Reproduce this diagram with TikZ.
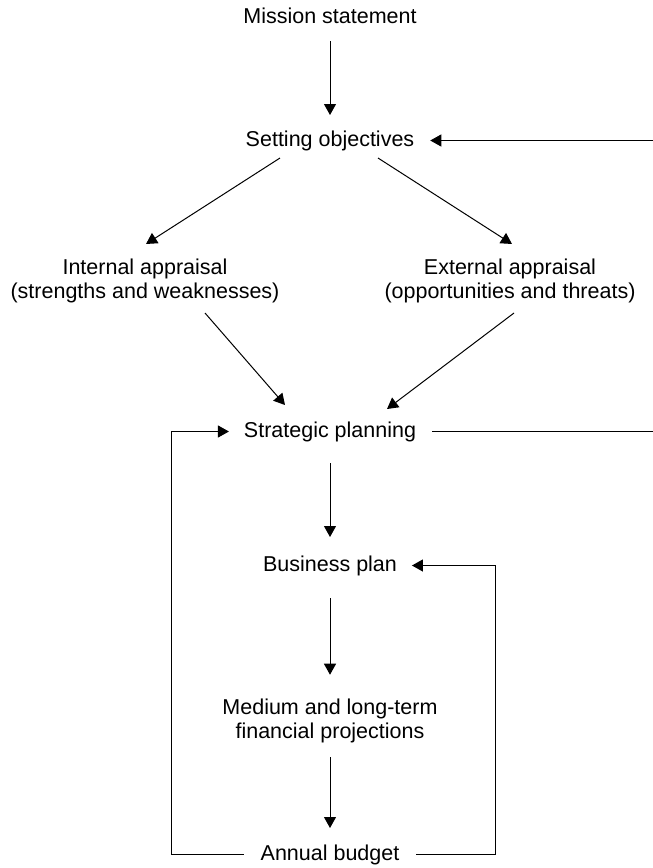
\documentclass[tikz,border=0pt]{standalone}
\usepackage{fontspec}
\setmainfont{Liberation Sans}
\usetikzlibrary{arrows.meta,calc}
\begin{document}
\begin{tikzpicture}[x=1pt,y=-1pt,
  lbl/.style={inner sep=0pt,outer sep=0pt,anchor=base,text height=16pt,text depth=5pt,font=\fontsize{21.5}{24.5}\selectfont},
  lbltwo/.style={inner sep=0pt,outer sep=0pt,align=center,font=\fontsize{21.5}{24.5}\selectfont},
  arr/.style={line width=1pt,-{Triangle[length=11pt,width=12pt]}},
  ln/.style={line width=1pt}]
\useasboundingbox (0,0) rectangle (653,868);
\node[lbl] (mission) at (330,23) {Mission statement};
\node[lbl] (setting) at (330,146) {Setting objectives};
\node[lbltwo] (internal) at (145,281) {Internal appraisal\\(strengths and weaknesses)};
\node[lbltwo] (external) at (510,281) {External appraisal\\(opportunities and threats)};
\node[lbl] (strat) at (330,437) {Strategic planning};
\node[lbl] (business) at (330,571) {Business plan};
\node[lbltwo] (medium) at (330,721) {Medium and long-term\\financial projections};
\node[lbl] (annual) at (330,860) {Annual budget};
\coordinate (rtop) at (653,140.5);
\coordinate (rmid) at (653,431.5);
% vertical flow
\draw[arr] ($(mission.south)+(0,13)$) -- ($(setting.north)+(0,-15)$);
\draw[arr] ($(strat.south)+(0,21)$) -- ($(business.north)+(0,-18)$);
\draw[arr] ($(business.south)+(0,22)$) -- ($(medium.north)+(0,-24)$);
\draw[arr] ($(medium.south)+(0,14)$) -- ($(annual.north)+(0,-16)$);
% diagonals
\draw[arr] ($(setting.base)+(-50,12)$) -- ($(internal.center)+(1,-37)$);
\draw[arr] ($(setting.base)+(48,12)$) -- ($(external.center)+(2,-37)$);
\draw[arr] ($(internal.center)+(60,32)$) -- ($(strat.base)+(-45,-32)$);
\draw[arr] ($(external.center)+(4,32)$) -- ($(strat.base)+(57,-28)$);
% right edge feedback
\draw[arr] (rtop) -- ($(setting.east)+(16,0)$);
\draw[ln] ($(strat.east)+(16,0)$) -- (rmid);
% loops
\draw[arr] ($(annual.west)+(-17,0)$) -- ++(-72,0) |- ($(strat.west)+(-15,0)$);
\draw[arr] ($(annual.east)+(17,0)$) -- (495,854.5) |- ($(business.east)+(15,0)$);
\end{tikzpicture}
\end{document}
